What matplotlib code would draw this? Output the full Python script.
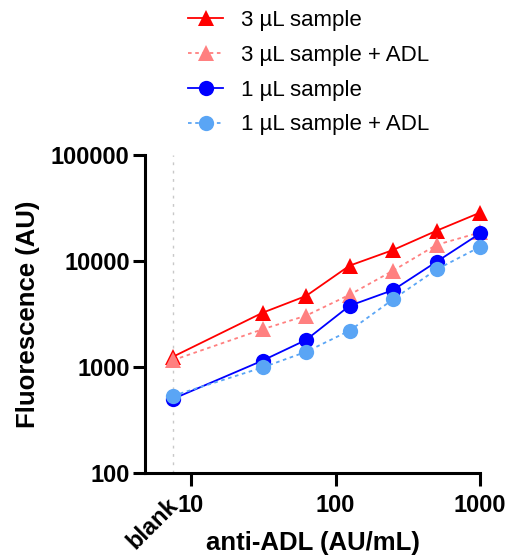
import numpy as np
import matplotlib
matplotlib.use("Agg")
import matplotlib.pyplot as plt
from matplotlib.transforms import blended_transform_factory, offset_copy

plt.rcParams['font.family'] = ['Liberation Sans', 'DejaVu Sans']

# concentrations (blank drawn left of the first decade)
conc = [7.5, 31.25, 62.5, 125, 250, 500, 1000]
blank_x = 7.5

s3 = [1250, 3250, 4680, 9040, 12700, 19300, 28600]
s3_adl = [1160, 2270, 3050, 4800, 8110, 14200, 18600]
s1 = [500, 1150, 1800, 3780, 5320, 9840, 18200]
s1_adl = [535, 990, 1390, 2200, 4350, 8320, 13600]

series = [
    ("3 µL sample", s3, "#FF0000", "^", "-"),
    ("3 µL sample + ADL", s3_adl, "#FF8080", "^", (0, (2, 2))),
    ("1 µL sample", s1, "#0000FF", "o", "-"),
    ("1 µL sample + ADL", s1_adl, "#5AA5F5", "o", (0, (2, 2))),
]

fig = plt.figure(figsize=(5.08, 5.56), dpi=100)
ax = fig.add_axes([0.2854, 0.1493, 0.945 - 0.2854, 0.7212 - 0.1493])

ax.axvline(blank_x, color="#C8C8C8", lw=1, ls=(0, (2, 4)), zorder=0)

handles = []
for label, vals, col, mk, ls in series:
    h, = ax.plot(conc, vals, color=col, marker=mk, ls=ls, lw=1.3,
                 markersize=11, markeredgewidth=0, label=label, clip_on=False)
    handles.append(h)

ax.set_xscale("log")
ax.set_yscale("log")
ax.set_xlim(4.8, 1000)
ax.set_ylim(100, 100000)
ax.set_xticks([10, 100, 1000])
ax.set_xticklabels(["10", "100", "1000"])
ax.set_yticks([100, 1000, 10000, 100000])
ax.set_yticklabels(["100", "1000", "10000", "100000"])
ax.minorticks_off()

for sp in ["top", "right"]:
    ax.spines[sp].set_visible(False)
for sp in ["left", "bottom"]:
    ax.spines[sp].set_linewidth(2.2)
ax.tick_params(width=2.2, length=9, labelsize=17, pad=2)
ax.tick_params(axis="x", pad=6)
for t in ax.get_xticklabels() + ax.get_yticklabels():
    t.set_fontweight("bold")

trans = blended_transform_factory(ax.transData, ax.transAxes)
trans = offset_copy(trans, fig=fig, x=-7, y=-2, units="dots")
ax.text(blank_x, -0.06, "blank", transform=trans, rotation=45, ha="right",
        va="top", fontsize=17, fontweight="bold", rotation_mode="anchor")

ax.set_xlabel("anti-ADL (AU/mL)", fontsize=18.5, fontweight="bold", labelpad=10)
ax.set_ylabel("Fluorescence (AU)", fontsize=18.5, fontweight="bold", labelpad=8)

fig.legend(handles=handles, loc="upper left", bbox_to_anchor=(0.35, 1.0),
           frameon=False, fontsize=16, handlelength=1.6, handletextpad=0.8,
           labelspacing=0.62, borderaxespad=0.05)

fig.savefig("out.png", dpi=100)
